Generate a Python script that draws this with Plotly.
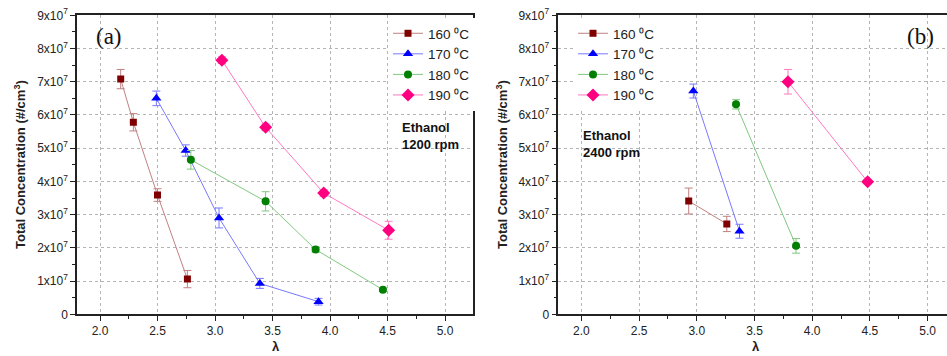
import plotly.graph_objects as go

# ---------------- data ----------------
series_names = ["160 ⁰C", "170 ⁰C", "180 ⁰C", "190 ⁰C"]

# Panel (a): Ethanol 1200 rpm
a_160_x = [2.18, 2.29, 2.50, 2.76]
a_160_y = [7.08e7, 5.78e7, 3.59e7, 1.06e7]
a_160_e = [0.29e7, 0.26e7, 0.19e7, 0.26e7]

a_170_x = [2.49, 2.745, 3.035, 3.39, 3.90]
a_170_y = [6.50e7, 4.93e7, 2.90e7, 0.93e7, 0.38e7]
a_170_e = [0.22e7, 0.17e7, 0.30e7, 0.15e7, 0.10e7]

a_180_x = [2.79, 3.44, 3.875, 4.46]
a_180_y = [4.65e7, 3.40e7, 1.95e7, 0.74e7]
a_180_e = [0.28e7, 0.29e7, 0.08e7, 0.05e7]

a_190_x = [3.06, 3.44, 3.945, 4.51]
a_190_y = [7.65e7, 5.63e7, 3.65e7, 2.53e7]
a_190_e = [0.10e7, 0.10e7, 0.10e7, 0.27e7]

# Panel (b): Ethanol 2400 rpm
b_160_x = [2.93, 3.26]
b_160_y = [3.41e7, 2.72e7]
b_160_e = [0.39e7, 0.23e7]

b_170_x = [2.97, 3.37]
b_170_y = [6.72e7, 2.50e7]
b_170_e = [0.21e7, 0.21e7]

b_180_x = [3.34, 3.86]
b_180_y = [6.32e7, 2.06e7]
b_180_e = [0.14e7, 0.22e7]

b_190_x = [3.79, 4.48]
b_190_y = [7.00e7, 3.99e7]
b_190_e = [0.37e7, 0.06e7]

y_tickvals = [0, 1e7, 2e7, 3e7, 4e7, 5e7, 6e7, 7e7, 8e7, 9e7]
y_ticktext = ["0"] + ["%dx10<sup>7</sup>" % i for i in range(1, 10)]
x_tickvals = [2.0, 2.5, 3.0, 3.5, 4.0, 4.5, 5.0]
x_ticktext = ["2.0", "2.5", "3.0", "3.5", "4.0", "4.5", "5.0"]

# ---------------- styles ----------------
marker_colors = ["#7F0000", "#0000FF", "#007F00", "#FF0080"]
line_colors = ["#C08080", "#7878FF", "#80C880", "#FF78C0"]
symbols = ["square", "triangle-up", "circle", "diamond"]
sizes = [7, 9, 8, 10]

FONT = "Liberation Sans, Arial, sans-serif"

fig = go.Figure()

panel_a = [(a_160_x, a_160_y, a_160_e), (a_170_x, a_170_y, a_170_e),
           (a_180_x, a_180_y, a_180_e), (a_190_x, a_190_y, a_190_e)]
panel_b = [(b_160_x, b_160_y, b_160_e), (b_170_x, b_170_y, b_170_e),
           (b_180_x, b_180_y, b_180_e), (b_190_x, b_190_y, b_190_e)]

for panel, xa, ya, leg in [(panel_a, "x", "y", "legend"), (panel_b, "x2", "y2", "legend2")]:
    for i, (xs, ys, es) in enumerate(panel):
        fig.add_trace(go.Scatter(
            x=xs, y=ys, mode="lines+markers", name=series_names[i],
            xaxis=xa, yaxis=ya, legend=leg,
            line=dict(color=line_colors[i], width=1),
            marker=dict(color=marker_colors[i], symbol=symbols[i], size=sizes[i],
                        line=dict(width=0)),
            error_y=dict(type="data", array=es, visible=True, color=line_colors[i],
                         thickness=1, width=4),
        ))

W, H = 947, 356
def px_x(p):
    return p / W
def px_y(p):
    return 1 - p / H

axis_common = dict(
    showline=True, linecolor="#222222", linewidth=1.5,
    ticks="outside", ticklen=5, tickwidth=1, tickcolor="#222222",
    showgrid=True, gridcolor="#b4b4b4", griddash="dot", gridwidth=1,
    zeroline=False, automargin=False,
    tickfont=dict(family=FONT, size=12, color="#222222"),
)

ydom = [px_y(314.3), px_y(15.3)]

fig.update_layout(
    width=W, height=H,
    margin=dict(l=0, r=0, t=0, b=0, autoexpand=False),
    paper_bgcolor="white", plot_bgcolor="white",
    font=dict(family=FONT, color="#222222"),
    xaxis=dict(domain=[px_x(77), px_x(473.3)], range=[1.8, 5.246], anchor="y",
               tickvals=x_tickvals, ticktext=x_ticktext, mirror=True,
               minor=dict(ticks="outside", ticklen=3, dtick=0.25, tick0=2.0,
                          tickcolor="#222222", showgrid=False),
               **axis_common),
    yaxis=dict(domain=ydom, range=[0, 9e7], anchor="x",
               tickvals=y_tickvals, ticktext=y_ticktext, mirror=True,
               minor=dict(ticks="outside", ticklen=3, dtick=5e6, tick0=0,
                          tickcolor="#222222", showgrid=False),
               **axis_common),
    xaxis2=dict(domain=[px_x(558.3), 1.0], range=[1.8, 5.168], anchor="y2",
                tickvals=x_tickvals, ticktext=x_ticktext, mirror=True,
                minor=dict(ticks="outside", ticklen=3, dtick=0.25, tick0=2.0,
                           tickcolor="#222222", showgrid=False),
                **axis_common),
    yaxis2=dict(domain=ydom, range=[0, 9e7], anchor="x2",
                tickvals=y_tickvals, ticktext=y_ticktext, mirror=False,
                minor=dict(ticks="outside", ticklen=3, dtick=5e6, tick0=0,
                           tickcolor="#222222", showgrid=False),
                **axis_common),
    legend=dict(x=px_x(388), y=px_y(18), xanchor="left", yanchor="top",
                bgcolor="white", borderwidth=0, tracegroupgap=0,
                font=dict(family=FONT, size=13.5, color="#222222"), itemwidth=30),
    legend2=dict(x=px_x(573), y=px_y(18), xanchor="left", yanchor="top",
                 bgcolor="white", borderwidth=0, tracegroupgap=0,
                 font=dict(family=FONT, size=13.5, color="#222222"), itemwidth=30),
    showlegend=True,
)

annos = [
    dict(text="(a)", x=px_x(94), y=px_y(36), xanchor="left", yanchor="middle",
         font=dict(family="Liberation Serif, Times New Roman, serif", size=23, color="#111111")),
    dict(text="(b)", x=px_x(905), y=px_y(36), xanchor="left", yanchor="middle",
         font=dict(family="Liberation Serif, Times New Roman, serif", size=23, color="#111111")),
    dict(text="<b>Ethanol<br>1200 rpm</b>", x=px_x(400), y=px_y(136), xanchor="left",
         yanchor="middle", align="left", font=dict(family=FONT, size=13, color="#111111")),
    dict(text="<b>Ethanol<br>2400 rpm</b>", x=px_x(581), y=px_y(144), xanchor="left",
         yanchor="middle", align="left", font=dict(family=FONT, size=13, color="#111111")),
    dict(text="<b>Total Concentration (#/cm<sup>3</sup>)</b>", x=px_x(20), y=px_y(165),
         textangle=-90, xanchor="center", yanchor="middle",
         font=dict(family=FONT, size=13, color="#222222")),
    dict(text="<b>Total Concentration (#/cm<sup>3</sup>)</b>", x=px_x(502), y=px_y(165),
         textangle=-90, xanchor="center", yanchor="middle",
         font=dict(family=FONT, size=13, color="#222222")),
    dict(text="<b>λ</b>", x=px_x(276), y=0, xanchor="center", yanchor="bottom",
         font=dict(family=FONT, size=13, color="#222222")),
    dict(text="<b>λ</b>", x=px_x(756), y=0, xanchor="center", yanchor="bottom",
         font=dict(family=FONT, size=13, color="#222222")),
]
for a in annos:
    a.update(xref="paper", yref="paper", showarrow=False)
fig.update_layout(annotations=annos)

fig.write_html("out.html", config={"displayModeBar": False},
               post_script="document.body.style.margin='0';")
